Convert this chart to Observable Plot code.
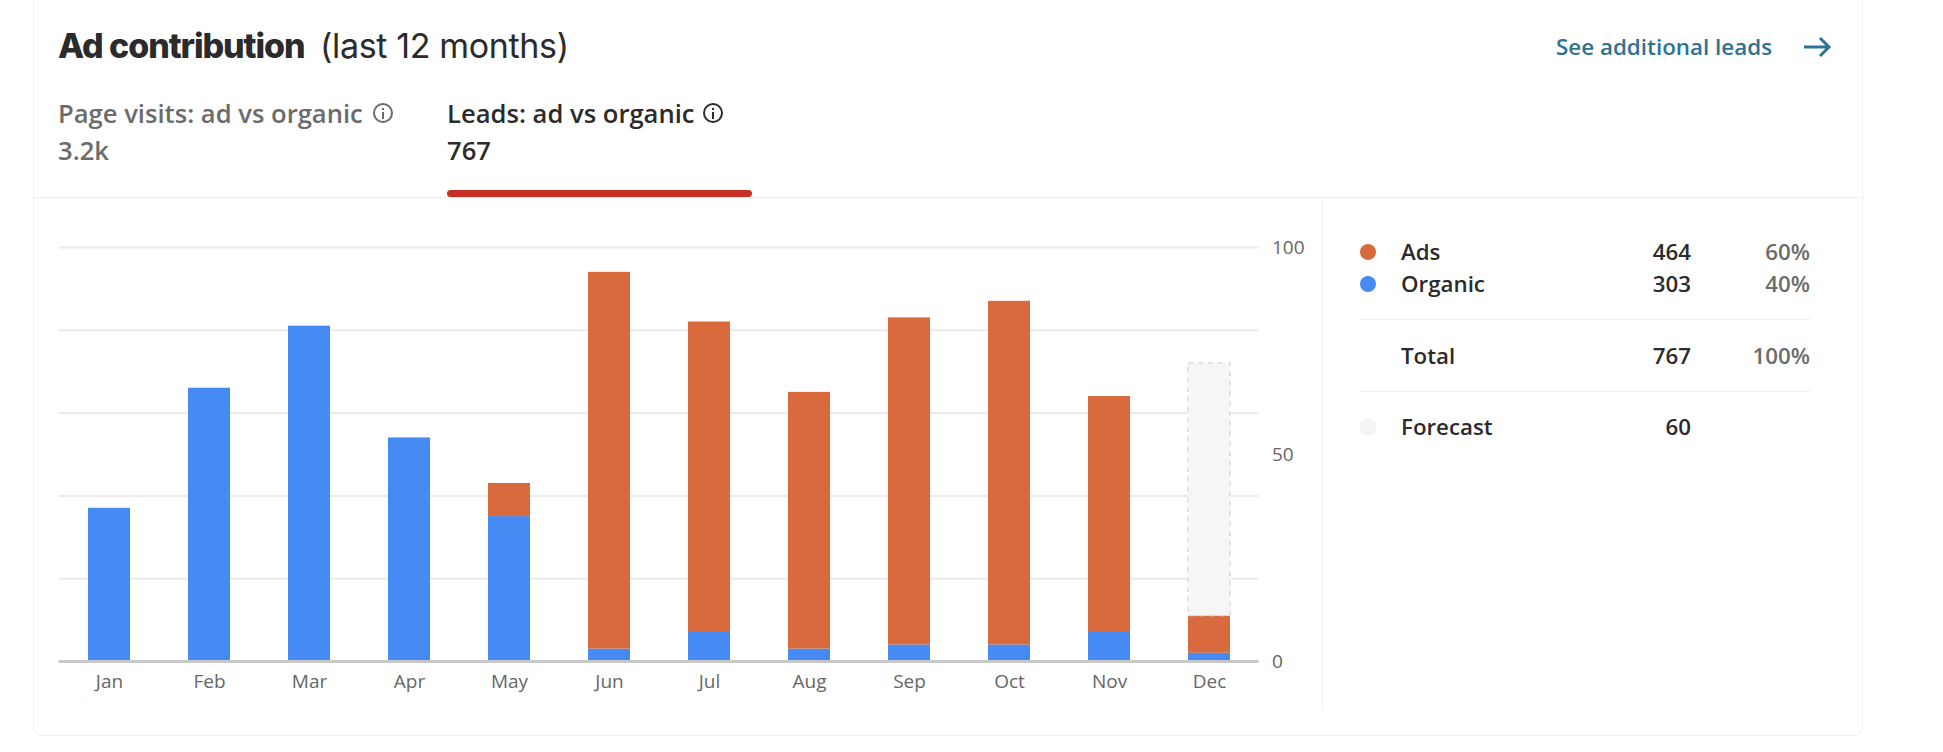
<!DOCTYPE html>
<html><head><meta charset="utf-8">
<script src="https://cdn.jsdelivr.net/npm/d3@7"></script>
<script src="https://cdn.jsdelivr.net/npm/@observablehq/plot@0.6"></script>
<style>
html,body{margin:0;padding:0;background:#fff;width:1943px;height:752px;overflow:hidden;font-family:"Open Sans",sans-serif}
.abs{position:absolute;white-space:nowrap}
.card{position:absolute;left:33px;top:-12px;width:1828px;height:746px;border:1px solid #eeeeee;border-radius:10px;box-sizing:content-box}
.line{position:absolute;background:#eeeeee}
.t{position:absolute;white-space:nowrap;line-height:1;transform:translateY(-50%);font-weight:600}
.r{transform:translate(-100%,-50%)}
.dot{position:absolute;width:16px;height:16px;border-radius:50%;transform:translate(-50%,-50%);box-sizing:border-box}
.icon{position:absolute;width:20px;height:20px;border:2px solid;border-radius:50%;box-sizing:border-box;transform:translateY(-50%)}
.icon i{position:absolute;left:7px;width:2px;background:currentColor}
#chart{position:absolute;left:0;top:200px}
</style></head><body>
<div class="card"></div>
<div class="t" style="left:58px;top:46px;font-family:Inter;font-weight:800;font-size:34px;letter-spacing:-1.07px;color:#2b2b2b">Ad contribution</div>
<div class="t" style="left:320px;top:46px;font-family:Inter;font-weight:400;font-size:34px;letter-spacing:-.35px;color:#2b2b2b">(last 12 months)</div>
<div class="t" style="left:1556px;top:47px;font-size:22.4px;color:#2f7391">See additional leads</div>
<svg class="abs" style="left:1802px;top:35px" width="30" height="24"><path d="M2 12H27M18 3L27 12L18 21" fill="none" stroke="#2f7391" stroke-width="3"/></svg>

<div class="t" style="left:58px;top:114px;font-size:25.6px;color:#6b6b6b">Page visits: ad vs organic</div>
<div class="icon" style="left:373px;top:113px;color:#6b6b6b"><i style="top:3px;height:2px"></i><i style="top:7px;height:7px"></i></div>
<div class="t" style="left:58px;top:151px;font-size:25.6px;color:#6b6b6b">3.2k</div>
<div class="t" style="left:447px;top:114px;font-size:25.6px;color:#2b2b2b">Leads: ad vs organic</div>
<div class="icon" style="left:703px;top:113px;color:#2b2b2b"><i style="top:3px;height:2px"></i><i style="top:7px;height:7px"></i></div>
<div class="t" style="left:447px;top:151px;font-size:25.6px;color:#2b2b2b">767</div>
<div class="line" style="left:33px;top:197px;width:1828px;height:1px"></div>
<div class="abs" style="left:447px;top:190px;width:305px;height:7px;background:#c53027;border-radius:4px"></div>
<div class="line" style="left:1322px;top:198px;width:1px;height:511px"></div>

<div id="chart"></div>
<div id="legend"></div>

<script>
const months = ["Jan","Feb","Mar","Apr","May","Jun","Jul","Aug","Sep","Oct","Nov","Dec"];
const organic = [37,66,81,54,35,3,7,3,4,4,7,2];
const ads = [0,0,0,0,8,91,75,62,79,83,57,9];
const forecastMonth = "Dec";
const forecastFrom = 11;
const forecastTo = 72;
const gridTicks = [0,20,40,60,80,100];
const axisTicks = [0,50,100];
const legendNames = ["Ads","Organic","Total","Forecast"];
const legendValues = ["464","303","767","60"];
const legendShares = ["60%","40%","100%",""];

const ORANGE = "#d86a3e", BLUE = "#468af3";
const rows = [
  ...months.map((m,i)=>({month:m,series:"Organic",value:organic[i]})),
  ...months.map((m,i)=>({month:m,series:"Ads",value:ads[i]}))
];

const plot = Plot.plot({
  width:1320, height:520,
  marginLeft:58.5, marginRight:61.5, marginTop:47, marginBottom:59,
  style:{fontFamily:'"Open Sans",sans-serif',fontSize:"19px",color:"#666666",background:"transparent"},
  x:{domain:months,paddingInner:0.58,paddingOuter:0.29,label:null},
  y:{domain:[0,100],label:null},
  color:{domain:["Ads","Organic"],range:[ORANGE,BLUE]},
  marks:[
    Plot.ruleY(gridTicks,{stroke:"#ebebeb",strokeWidth:2}),
    Plot.barY(rows,{x:"month",y:"value",fill:"series"}),
    Plot.barY([{month:forecastMonth,y1:forecastFrom,y2:forecastTo}],{x:"month",y1:"y1",y2:"y2",fill:"#f6f6f6",stroke:"#dddddd",strokeWidth:1.5,strokeDasharray:"5 5"}),
    Plot.ruleY([0],{stroke:"#c8c8c8",strokeWidth:3}),
    Plot.axisX({tickSize:0,tickPadding:13,label:null,fontSize:19}),
    Plot.axisY(axisTicks,{anchor:"right",tickSize:0,tickPadding:13,label:null,fontSize:19})
  ]
});
document.getElementById("chart").appendChild(plot);

const L = document.getElementById("legend");
const ys = [252,284,356,427];
const dots = [ORANGE,BLUE,null,"#f6f6f6"];
let html = "";
legendNames.forEach((n,i)=>{
  const y = ys[i];
  if(dots[i]) html += `<div class="dot" style="left:1368px;top:${y}px;background:${dots[i]};${i===3?'border:1px solid #eeeeee':''}"></div>`;
  html += `<div class="t" style="left:1401px;top:${y}px;font-size:22.3px;color:#2b2b2b">${n}</div>`;
  html += `<div class="t r" style="left:1691px;top:${y}px;font-size:22.3px;color:#2b2b2b">${legendValues[i]}</div>`;
  if(legendShares[i]) html += `<div class="t r" style="left:1810px;top:${y}px;font-size:22.3px;color:#6b6b6b">${legendShares[i]}</div>`;
});
html += `<div class="line" style="left:1360px;top:319px;width:450px;height:1px"></div>`;
html += `<div class="line" style="left:1360px;top:391px;width:450px;height:1px"></div>`;
L.innerHTML = html;
</script>
</body></html>
